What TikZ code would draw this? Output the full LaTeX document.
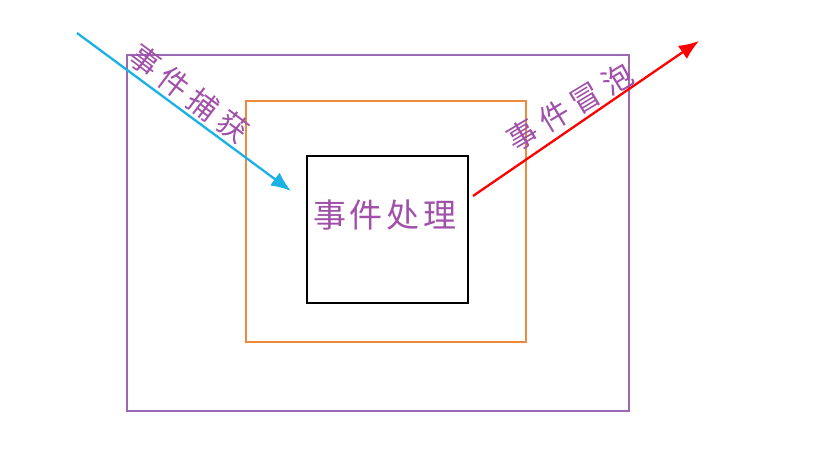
\documentclass[tikz,border=0pt]{standalone}
\usepackage{fontspec}
\usepackage{xcolor}
\usepackage{tikz}
\newfontfamily\cjk[LetterSpace=12]{Noto Sans CJK SC}
\newfontfamily\cjktag[LetterSpace=22]{Noto Sans CJK SC}
\definecolor{framepurple}{HTML}{9B68B4}
\definecolor{textpurple}{HTML}{A050A8}
\definecolor{midorange}{HTML}{EE8A3C}
\definecolor{capblue}{HTML}{19B1E6}
\usetikzlibrary{arrows.meta}
\tikzset{
  layer/.style={draw, line width=2.2pt, anchor=north west, inner sep=0pt},
  word/.style={text=textpurple, font=\cjk\fontsize{33}{33}\selectfont, inner sep=0pt},
  tag/.style={word, font=\cjktag\fontsize{30}{30}\selectfont},
  flow/.style={line width=2.3pt, -{Latex[length=20pt, width=16pt]}}
}

\begin{document}
\begin{tikzpicture}[x=1pt, y=-1pt]
      \useasboundingbox (0,0) rectangle (830,474);

      \node[layer, framepurple, minimum width=502pt, minimum height=356pt] (outer) at (126,54) {};
      \node[layer, midorange, minimum width=280pt, minimum height=241pt] (middle) at (245,100) {};
      \node[layer, black, minimum width=161pt, minimum height=147pt] (inner) at (306,155) {};

      \node[word] (handle) at (385,215) {事件处理};

      \coordinate (capstart) at (77,33);
      \coordinate (capend) at (291,191);
      \coordinate (bubstart) at (473,196);
      \coordinate (bubend) at (699,41);

      \draw[flow, capblue] (capstart) -- (capend);
      \draw[flow, red] (bubstart) -- (bubend);

      \node[tag, rotate=-37] (capture) at (189,93) {事件捕获};
      \node[tag, rotate=31] (bubble) at (570,107) {事件冒泡};
    \end{tikzpicture}
\end{document}
